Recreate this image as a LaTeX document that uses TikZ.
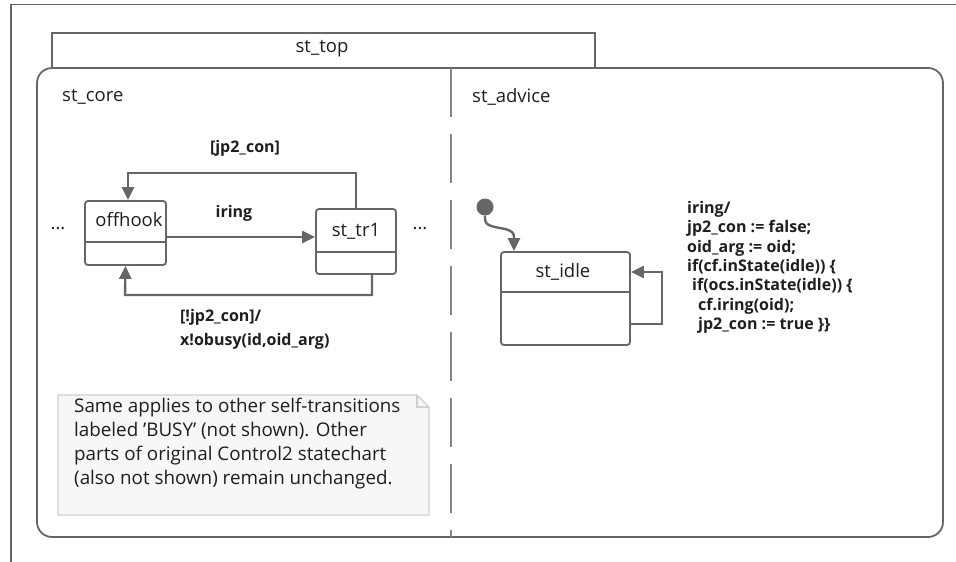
\documentclass[tikz,border=0pt]{standalone}
\usepackage{fontspec}
\setmainfont{Open Sans}
\usetikzlibrary{arrows.meta}
\definecolor{ln}{HTML}{666666}
\definecolor{txtc}{HTML}{1E1E1E}
\definecolor{notefill}{HTML}{F7F7F7}
\definecolor{noteline}{HTML}{D0D0D0}
\begin{document}
\begin{tikzpicture}[x=1pt,y=-1pt,
  statebox/.style={draw=ln, line width=1.8pt, rounded corners=3pt, fill=white, inner sep=0},
  trans/.style={draw=ln, line width=2.4pt, -{Triangle[length=13pt,width=12pt]}},
  lbl/.style={font=\fontsize{16}{19.4}\selectfont\bfseries, text=txtc, inner sep=0},
  clbl/.style={font=\fontsize{16}{24}\selectfont\bfseries, text=txtc, inner sep=0},
  txt/.style={font=\fontsize{18.5}{22}\selectfont, text=txtc, inner sep=0}]
\useasboundingbox (0,0) rectangle (956,562);
% outer frame
\draw[ln, line width=1.5pt] (11,562) -- (11,4.5) -- (956,4.5);
% tab
\draw[ln, line width=1.5pt] (52,68) -- (52,33) -- (595,33) -- (595,68);
\node[txt] (top) at (322,49) {st\_top};
% main box
\draw[ln, line width=1.8pt, rounded corners=15pt] (37,68) rectangle (943,537);
% divider
\draw[ln!80, line width=1.2pt, dash pattern=on 49pt off 17pt] (451,68) -- (451,537);
\node[txt, anchor=west] (core) at (62,97) {st\_core};
\node[txt, anchor=west] (advice) at (472,97) {st\_advice};
% st_core states
\node[statebox, minimum width=81pt, minimum height=64pt] (offhook) at (125.5,233) {};
\draw[ln, line width=1.8pt] (offhook.west |- 0,242) -- (offhook.east |- 0,242);
\node[txt] (offhookt) at (129,220) {offhook};
\node[statebox, minimum width=80pt, minimum height=65pt] (tr1) at (356,241.5) {};
\draw[ln, line width=1.8pt] (tr1.west |- 0,252) -- (tr1.east |- 0,252);
\node[txt] (tr1t) at (356,231) {st\_tr1};
\node[txt] (dotsl) at (58,229) {...};
\node[txt] (dotsr) at (420,229) {...};
% transitions
\draw[trans] ([yshift=-4pt]offhook.east) -- ([yshift=-4pt]offhook.east -| tr1.west);
\node[clbl] (iring) at (234,213) {iring};
\draw[trans] (tr1.north) -- (356,173) -- (128,173) -- (128,0 |- offhook.north);
\node[clbl] (jp) at (245,148) {[jp2\_con]};
\draw[trans] ([xshift=16pt]tr1.south) -- (372,295) -- (125,295) -- (offhook.south);
\node[clbl, anchor=north west, align=left] (busy) at (180,309) {[!jp2\_con]/\\x!obusy(id,oid\_arg)};
% st_advice
\node[circle, fill=ln, minimum size=17pt, inner sep=0] (init) at (485,207) {};
\node[statebox, minimum width=129pt, minimum height=93pt] (idle) at (565.5,298.5) {};
\draw[ln, line width=1.8pt] (idle.west |- 0,292) -- (idle.east |- 0,292);
\node[txt] (idlet) at (563,272) {st\_idle};
\draw[trans] (init.south) .. controls (484,226) and (490,226) .. (505,229) .. controls (512,231) and (514,233) .. (514,237) -- (514,0 |- idle.north);
\draw[trans] (idle.east |- 0,324) -- (662,324) -- (662,272) -- (idle.east |- 0,272);
\node[lbl, anchor=north west, align=left] (action) at (687,201) {iring/\\jp2\_con := false;\\oid\_arg := oid;\\if(cf.inState(idle)) \{\\\hspace*{5pt}if(ocs.inState(idle)) \{\\\hspace*{11pt}cf.iring(oid);\\\hspace*{11pt}jp2\_con := true \}\}};
% note
\draw[noteline, fill=notefill, line width=1.2pt] (58,395) -- (417,395) -- (429,407) -- (429,515) -- (58,515) -- cycle;
\draw[noteline, line width=1.2pt] (417,395) -- (417,407) -- (429,407);
\node[txt, anchor=north west, align=left, font=\fontsize{18.8}{24}\selectfont] (note) at (74,398) {Same applies to other self-transitions\\labeled 'BUSY' (not shown). Other\\parts of original Control2 statechart\\(also not shown) remain unchanged.};
\end{tikzpicture}
\end{document}
